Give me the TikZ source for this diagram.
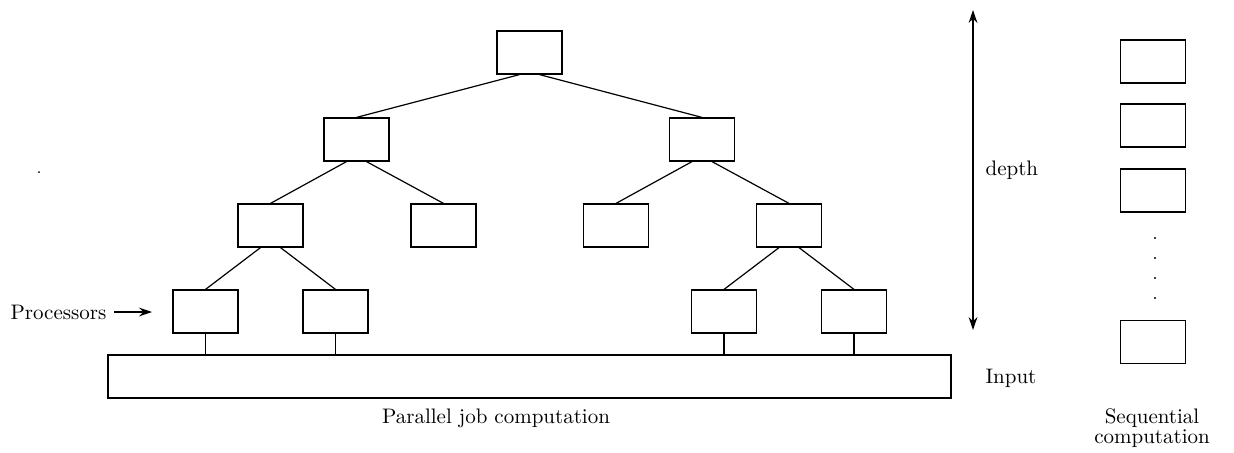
\documentclass[tikz,border=0pt]{standalone}
\usetikzlibrary{arrows.meta}
\begin{document}
\begin{tikzpicture}[x=0.5pt,y=0.5pt,>={Stealth[length=6.5pt,width=4.4pt]},line width=0.6pt,
  font=\fontsize{10.5}{12}\selectfont,
  proc/.style={draw,minimum width=32.5pt,minimum height=21.5pt,inner sep=0pt}]
\useasboundingbox (0,0) rectangle (1234,452);
% tree of processors
\node[proc] (p) at (529.5,399.5) {};
\node[proc] (pl) at (356.5,312.5) {};
\node[proc] (pr) at (702,312.5) {};
\node[proc] (pll) at (270.5,226.5) {};
\node[proc] (plr) at (443.5,226.5) {};
\node[proc] (prl) at (616,226.5) {};
\node[proc] (prr) at (789,226.5) {};
\node[proc] (plll) at (205.5,140.5) {};
\node[proc] (pllr) at (335.5,140.5) {};
\node[proc] (prrl) at (724,140.5) {};
\node[proc] (prrr) at (854,140.5) {};
\foreach \a/\b/\s in {p/pl/-1,p/pr/1,pl/pll/-1,pl/plr/1,pr/prl/-1,pr/prr/1,
  pll/plll/-1,pll/pllr/1,prr/prrl/-1,prr/prrr/1}{
\draw ([xshift=\s*5pt]\a.south) -- (\b.north);
}
% input
\node[draw,minimum width=421.5pt,minimum height=21.5pt] (in) at (529.5,75.5) {};
\foreach \c in {plll,pllr,prrl,prrr}{\draw (\c.south) -- (\c.south |- in.north);}
\node (par) at (496,34) {Parallel job computation};
\node[anchor=west,inner sep=0pt] (procs) at (10,140) {Processors};
\coordinate (parr) at (152,140);
\draw[->] ([xshift=3.5pt]procs.east) -- (parr);
\fill (39,280) circle (0.5pt);
% depth
\coordinate (dtop) at (973,442);
\coordinate (dbot) at (973,122);
\draw[<->] (dtop) -- (dbot);
\node[anchor=west,inner sep=0pt] (dep) at (985,282) {depth};
\node[anchor=west,inner sep=0pt] (inp) at (985,74) {Input};
% sequential
\foreach \y [count=\i] in {390.5,326.5,261.5,110}{\node[proc] (s\i) at (1153,\y) {};}
\foreach \y in {214,194,174,154}{\fill (1155,\y) circle (0.6pt);}
\node[align=center] (seq) at (1152,24) {Sequential\\[-2pt]computation};
\end{tikzpicture}
\end{document}
